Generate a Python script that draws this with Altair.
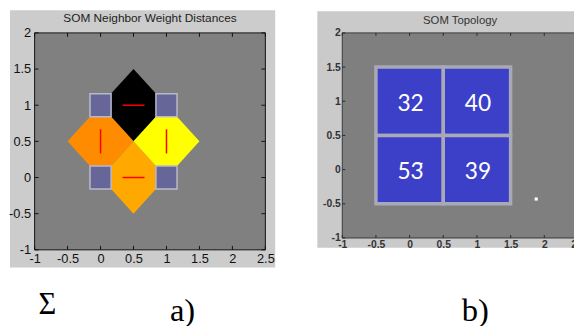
import altair as alt
import pandas as pd

# ---------------- panel a) SOM Neighbor Weight Distances ----------------
neuron_x = [0, 1, 0, 1]
neuron_y = [0, 0, 1, 1]
pair_from = [2, 0, 0, 1]
pair_to = [3, 2, 1, 3]
pair_color = ["#000000", "#FF8C00", "#FFA800", "#FFFF00"]

# ---------------- panel b) SOM Topology ----------------
cell_x = [0, 1, 0, 1]
cell_y = [1, 1, 0, 0]
cell_hits = ["32", "40", "53\u0304", "39"]
dot_x = [1.88]
dot_y = [-0.43]

x_ticks = [-1, -0.5, 0, 0.5, 1, 1.5, 2, 2.5]
y_ticks = [-1, -0.5, 0, 0.5, 1, 1.5, 2]

title_a = "SOM Neighbor Weight Distances"
title_b = "SOM Topology"
caption_sigma = "\u03a3"
caption_a = "a)"
caption_b = "b)"

# ---------------- geometry built from the data ----------------
SQ = 0.16     # neuron square half size
CORNER = 0.15
patch_rows = []
line_rows = []
for k, (i, j, c) in enumerate(zip(pair_from, pair_to, pair_color)):
    x0, y0, x1, y1 = neuron_x[i], neuron_y[i], neuron_x[j], neuron_y[j]
    mx, my = (x0 + x1) / 2, (y0 + y1) / 2
    if y0 == y1:
        h = abs(x1 - x0) / 2
        pts = [(mx - h + CORNER, my + CORNER, my - CORNER),
               (mx, my + h, my - h),
               (mx + h - CORNER, my + CORNER, my - CORNER)]
    else:
        h = abs(y1 - y0) / 2
        pts = [(mx - h, my, my),
               (mx - CORNER, my + h - CORNER, my - h + CORNER),
               (mx + CORNER, my + h - CORNER, my - h + CORNER),
               (mx + h, my, my)]
    for (px, top, bot) in pts:
        patch_rows.append({"patch": k, "color": c, "x": px, "top": top, "bottom": bot})
    line_rows.append({"x": x0 + (x1 - x0) / 3, "y": y0 + (y1 - y0) / 3,
                      "x2": x0 + 2 * (x1 - x0) / 3, "y2": y0 + 2 * (y1 - y0) / 3})

patches = pd.DataFrame(patch_rows)
lines = pd.DataFrame(line_rows)
neurons = pd.DataFrame({"x": [v - SQ for v in neuron_x], "x2": [v + SQ for v in neuron_x],
                        "y": [v - SQ for v in neuron_y], "y2": [v + SQ for v in neuron_y]})
cells = pd.DataFrame({"x": [v - 0.5 for v in cell_x], "x2": [v + 0.5 for v in cell_x],
                      "y": [v - 0.5 for v in cell_y], "y2": [v + 0.5 for v in cell_y],
                      "cx": cell_x, "cy": cell_y, "hits": cell_hits})
dots = pd.DataFrame({"x": dot_x, "y": dot_y})
xt = pd.DataFrame({"v": x_ticks})
yt = pd.DataFrame({"v": y_ticks})
one = pd.DataFrame({"k": [0]})


def make_x(field, fs, pad, color, weight):
    return alt.X(field, type="quantitative",
                 scale=alt.Scale(domain=[-1, 2.5], nice=False, zero=False),
                 axis=alt.Axis(values=x_ticks, labelExpr="'' + datum.value", ticks=False, tickSize=0,
                               domain=False, grid=False, title=None, labelPadding=pad,
                               labelFontSize=fs, labelFont="Liberation Sans", labelColor=color,
                               labelFontWeight=weight, labelFlush=False, labelOverlap=False, zindex=1))


def make_y(field, fs, pad, color, weight):
    return alt.Y(field, type="quantitative",
                 scale=alt.Scale(domain=[-1, 2], nice=False, zero=False),
                 axis=alt.Axis(values=y_ticks, labelExpr="'' + datum.value", ticks=False, tickSize=0,
                               domain=False, grid=False, title=None, labelPadding=pad,
                               labelFontSize=fs, labelFont="Liberation Sans", labelColor=color,
                               labelFontWeight=weight, labelFlush=False, labelOverlap=False, zindex=1))


def panel_base(W, H, frame, frame_color, plot_color, box_color, fx, fy, tick_color, tlen):
    fr = alt.Chart(one).mark_rect(fill=frame_color).encode(
        x=alt.value(frame[0]), x2=alt.value(frame[1]), y=alt.value(frame[2]), y2=alt.value(frame[3]))
    bg = alt.Chart(one).mark_rect(fill=plot_color, stroke=box_color, strokeWidth=1).encode(
        x=alt.value(0), x2=alt.value(W), y=alt.value(0), y2=alt.value(H))
    tb = alt.Chart(xt).mark_rule(color=tick_color, strokeWidth=1).encode(
        x=fx("v"), y=alt.value(H), y2=alt.value(H - tlen))
    tt = alt.Chart(xt).mark_rule(color=tick_color, strokeWidth=1).encode(
        x=fx("v"), y=alt.value(0), y2=alt.value(tlen))
    tl = alt.Chart(yt).mark_rule(color=tick_color, strokeWidth=1).encode(
        y=fy("v"), x=alt.value(0), x2=alt.value(tlen))
    tr = alt.Chart(yt).mark_rule(color=tick_color, strokeWidth=1).encode(
        y=fy("v"), x=alt.value(W), x2=alt.value(W - tlen))
    return fr, bg, [tb, tt, tl, tr]


# ---------------- left panel ----------------
WA, HA = 234, 220
fxa = lambda f: make_x(f, 13, 3, "#111111", "normal")
fya = lambda f: make_y(f, 13, 4, "#111111", "normal")
fr_a, bg_a, ticks_a = panel_base(WA, HA, (-25, 244, -23, 238), "#CCCCCC", "#808080", "#111111",
                                 fxa, fya, "#111111", 4)

areas = alt.Chart(patches).mark_area(opacity=1, strokeWidth=0).encode(
    x=fxa("x"), y=fya("top"), y2=alt.Y2("bottom"),
    color=alt.Color("color:N", scale=None), detail="patch:N")
squares = alt.Chart(neurons).mark_rect(fill="#666699", stroke="#B9B9CC", strokeWidth=1.5).encode(
    x=fxa("x"), x2=alt.X2("x2"), y=fya("y"), y2=alt.Y2("y2"))
reds = alt.Chart(lines).mark_rule(color="#FF0000", strokeWidth=1.5).encode(
    x=fxa("x"), x2=alt.X2("x2"), y=fya("y"), y2=alt.Y2("y2"))

ttl_a = alt.Chart(one).mark_text(text=title_a, font="Liberation Sans", fontSize=12, color="#222222",
                                  baseline="middle", align="center").encode(
    x=alt.value(WA / 2), y=alt.value(-15.5))
cap_s = alt.Chart(one).mark_text(text=caption_sigma, font="Liberation Serif", fontSize=31, color="#000000",
                                 baseline="alphabetic", align="center").encode(
    x=alt.value(13), y=alt.value(285))
cap_a = alt.Chart(one).mark_text(text=caption_a, font="Liberation Serif", fontSize=33, color="#000000",
                                 baseline="alphabetic", align="center").encode(
    x=alt.value(150), y=alt.value(292))

left = alt.layer(fr_a, bg_a, areas, squares, reds, *ticks_a, ttl_a, cap_s, cap_a).properties(
    width=WA, height=HA)

# ---------------- right panel ----------------
WB, HB = 239, 208
fxb = lambda f: make_x(f, 10.5, 1.5, "#333333", "bold")
fyb = lambda f: make_y(f, 10.5, 2, "#333333", "bold")
fr_b, bg_b, ticks_b = panel_base(WB, HB, (-25.3, 245, -22, 218), "#CACACA", "#7F7F7F", "#3A3A3A",
                                 fxb, fyb, "#2A2A2A", 3)

blue = alt.Chart(cells).mark_rect(fill="#3C40C8", stroke="#A8A8B6", strokeWidth=3.5).encode(
    x=fxb("x"), x2=alt.X2("x2"), y=fyb("y"), y2=alt.Y2("y2"))
hits = alt.Chart(cells).mark_text(font="Lato", fontSize=23, color="#FFFFFF", baseline="middle",
                                  align="center", dx=1, dy=3).encode(
    x=fxb("cx"), y=fyb("cy"), text="hits:N")
dot = alt.Chart(dots).mark_square(size=10, color="#FFFFFF", opacity=1).encode(
    x=fxb("x"), y=fyb("y"))
ttl_b = alt.Chart(one).mark_text(text=title_b, font="Liberation Sans", fontSize=11.5, color="#333333",
                                  baseline="middle", align="center").encode(
    x=alt.value(WB / 2), y=alt.value(-12))
cap_b = alt.Chart(one).mark_text(text=caption_b, font="Liberation Serif", fontSize=33, color="#000000",
                                 baseline="alphabetic", align="center").encode(
    x=alt.value(135), y=alt.value(292))

right = alt.layer(fr_b, bg_b, blue, hits, dot, *ticks_b, ttl_b, cap_b).properties(
    width=WB, height=HB)

chart = alt.hconcat(left, right, spacing=41).properties(
    autosize=alt.AutoSizeParams(type="none"),
    padding={"left": 27, "top": 23, "right": 547, "bottom": 295},
).configure(background="white").configure_view(stroke="transparent")

chart.save("out.html", embed_options={"renderer": "svg", "actions": False})
